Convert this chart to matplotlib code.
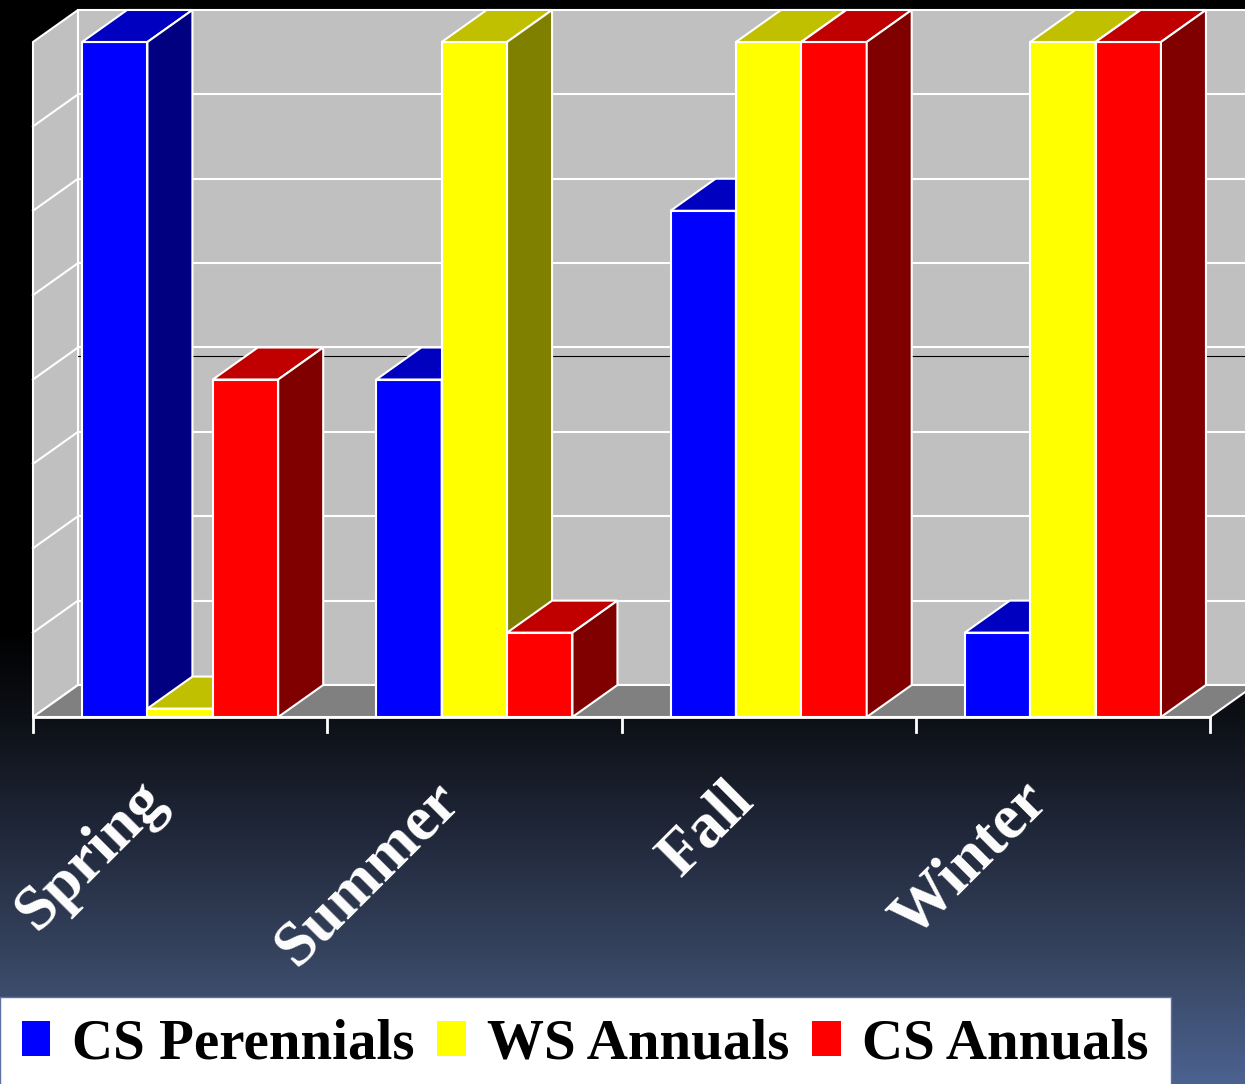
import numpy as np
import matplotlib
matplotlib.use('Agg')
import matplotlib.pyplot as plt
from matplotlib.patches import Polygon, Patch
from matplotlib.colors import LinearSegmentedColormap

# seasonal counts per plant group
seasons = ['Spring', 'Summer', 'Fall', 'Winter']
series_names = ['CS Perennials', 'WS Annuals', 'CS Annuals']
cs_perennials = [8, 4, 6, 1]
ws_annuals = [0.1, 8, 8, 8]
cs_annuals = [4, 1, 8, 8]
ref_level = 3.9
y_max = 8

# front / top / side shades for each series
front_colors = ['#0000ff', '#ffff00', '#ff0000']
top_colors = ['#0000c0', '#c0c000', '#c00000']
side_colors = ['#000080', '#808000', '#800000']

W, H = 1245, 1084
fig = plt.figure(figsize=(W / 100, H / 100), dpi=100)

# dark gradient background
bg = fig.add_axes([0, 0, 1, 1], zorder=-10)
grad_cmap = LinearSegmentedColormap.from_list('bg', [
    (0.0, '#000000'), (0.58, '#000000'), (0.665, '#0d1016'),
    (0.785, '#232b3f'), (0.885, '#36445f'), (1.0, '#4b6190')])
bg.imshow(np.linspace(0, 1, 512).reshape(-1, 1), aspect='auto', cmap=grad_cmap,
          extent=[0, 1, 1, 0])
bg.set_axis_off()

# axes = front plane of the 3d box
x0, x1, y_bot, y_top = 33, 1210, 717, 42
ax = fig.add_axes([x0 / W, 1 - y_bot / H, (x1 - x0) / W, (y_bot - y_top) / H])
n = len(seasons)
ax.set_xlim(0, n)
ax.set_ylim(0, y_max)
ax.set_axis_off()

# oblique depth offset (45px right, 32px up)
dx = 45 / ((x1 - x0) / n)
dy = 32 / ((y_bot - y_top) / y_max)

wall = '#c0c0c0'
lw = 1.5


def poly(pts, fc, z):
    ax.add_patch(Polygon(pts, closed=True, facecolor=fc, edgecolor='white',
                         linewidth=lw, clip_on=False, zorder=z, joinstyle='miter'))


# walls and floor
poly([(0, 0), (dx, dy), (dx, y_max + dy), (0, y_max)], wall, 1)
poly([(dx, dy), (n + dx, dy), (n + dx, y_max + dy), (dx, y_max + dy)], wall, 1)
poly([(0, 0), (n, 0), (n + dx, dy), (dx, dy)], '#808080', 1.5)
for k in range(1, y_max):
    ax.plot([0, dx], [k, k + dy], color='white', lw=lw, clip_on=False, zorder=2)
    ax.plot([dx, n + dx], [k + dy, k + dy], color='white', lw=lw, clip_on=False, zorder=2)
ax.plot([dx, n + dx], [ref_level + dy] * 2, color='black', lw=0.8, clip_on=False, zorder=2.5)

# category axis line and ticks
tick_len = 15 / ((y_bot - y_top) / y_max)
ax.plot([0, n], [0, 0], color='white', lw=2, clip_on=False, zorder=3)
for i in range(n + 1):
    ax.plot([i, i], [0, -tick_len], color='white', lw=2, clip_on=False, zorder=3)

# 3d bars
values = [cs_perennials, ws_annuals, cs_annuals]
bw = 1 / 4.5
gap = 0.75 * bw
z = 4
for i in range(n):
    for s, vals in enumerate(values):
        left = i + gap + s * bw
        right = left + bw
        v = vals[i]
        poly([(left, 0), (right, 0), (right, v), (left, v)], front_colors[s], z)
        poly([(left, v), (right, v), (right + dx, v + dy), (left + dx, v + dy)], top_colors[s], z + 0.1)
        poly([(right, 0), (right + dx, dy), (right + dx, v + dy), (right, v)], side_colors[s], z + 0.2)
        z += 1

# rotated season labels
label_font = {'family': 'Liberation Serif', 'weight': 'bold', 'size': 46}
for i, name in enumerate(seasons):
    ax.text(i + 0.5 - 0.01, -0.64, name, rotation=45, ha='right', va='top',
            color='white', fontdict=label_font, clip_on=False)

handles = [Patch(facecolor=c, edgecolor='none') for c in front_colors]
leg = fig.legend(handles, series_names, loc='upper left',
                 bbox_to_anchor=(0, 1 - 997 / H), ncol=3, frameon=True, fancybox=False,
                 framealpha=1, facecolor='white', edgecolor='#6070a0',
                 prop={'family': 'Liberation Serif', 'weight': 'bold', 'size': 41},
                 handlelength=0.5, handleheight=0.55, handletextpad=0.38,
                 columnspacing=0.4, borderpad=0.38, borderaxespad=0)
leg.get_frame().set_linewidth(1)

fig.savefig('out.png', dpi=100)
